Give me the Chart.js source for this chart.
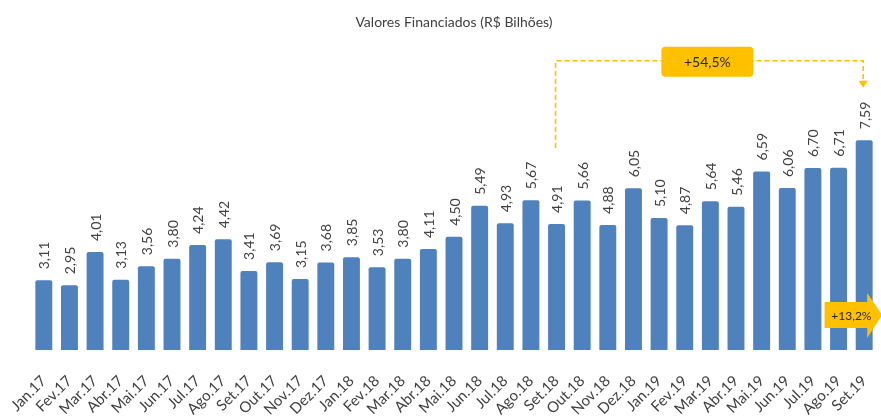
<!DOCTYPE html>
<html>
<head>
<meta charset="utf-8">
<script src="https://cdn.jsdelivr.net/npm/chart.js@4/dist/chart.umd.min.js"></script>
<style>
  html, body { margin: 0; padding: 0; background: #fff; }
  #wrap { width: 881px; height: 418px; }
</style>
</head>
<body>
<div id="wrap"><canvas id="valoresChart" width="881" height="418"></canvas></div>
<script>
// months shown on the x axis
const months = [
  "Jan.17", "Fev.17", "Mar.17", "Abr.17", "Mai.17", "Jun.17", "Jul.17", "Ago.17",
  "Set.17", "Out.17", "Nov.17", "Dez.17", "Jan.18", "Fev.18", "Mar.18", "Abr.18",
  "Mai.18", "Jun.18", "Jul.18", "Ago.18", "Set.18", "Out.18", "Nov.18", "Dez.18",
  "Jan.19", "Fev.19", "Mar.19", "Abr.19", "Mai.19", "Jun.19", "Jul.19", "Ago.19",
  "Set.19",
];

// financed values, R$ billions
const valores = [
  3.11, 2.95, 4.01, 3.13, 3.56, 3.80, 4.24, 4.42,
  3.41, 3.69, 3.15, 3.68, 3.85, 3.53, 3.80, 4.11,
  4.50, 5.49, 4.93, 5.67, 4.91, 5.66, 4.88, 6.05,
  5.10, 4.87, 5.64, 5.46, 6.59, 6.06, 6.70, 6.71,
  7.59,
];

// callouts: 12-month growth and month-over-month growth
const growthYear = { from: 20, to: 32, text: "+54,5%" };
const growthMonth = { from: 31, to: 32, text: "+13,2%" };

const gold = "#FFC000";
const textColor = "#404040";
const font = "Lato, 'Open Sans', sans-serif";

function fmt(v) {
  return v.toFixed(2).replace(".", ",");
}

// vertical value labels above the bars
const valueLabels = {
  id: "valueLabels",
  afterDatasetsDraw(chart) {
    const c = chart.ctx;
    const meta = chart.getDatasetMeta(0);
    c.save();
    c.fillStyle = textColor;
    c.font = "14px " + font;
    c.textAlign = "left";
    c.textBaseline = "middle";
    meta.data.forEach((bar, i) => {
      c.save();
      c.translate(bar.x + 1, bar.y - 11);
      c.rotate(-Math.PI / 2);
      c.fillText(fmt(valores[i]), 0, 0);
      c.restore();
    });
    c.restore();
  },
};

// dashed bracket and the arrow box
const callouts = {
  id: "callouts",
  afterDatasetsDraw(chart) {
    const c = chart.ctx;
    const x = chart.scales.x;
    const y = chart.scales.y;
    const area = chart.chartArea;

    // +54,5% bracket
    const x1 = x.getPixelForValue(growthYear.from) - 1;
    const x2 = x.getPixelForValue(growthYear.to) - 1;
    const yLine = area.top + 21;
    const yStart = y.getPixelForValue(valores[growthYear.from]) - 76;
    const yEnd = area.top + 42;
    c.save();
    c.strokeStyle = gold;
    c.lineWidth = 1.6;
    c.setLineDash([5, 3]);
    c.beginPath();
    c.moveTo(x1, yStart);
    c.lineTo(x1, yLine);
    c.lineTo(x2, yLine);
    c.lineTo(x2, yEnd);
    c.stroke();
    c.setLineDash([]);
    c.fillStyle = gold;
    c.beginPath();
    c.moveTo(x2 - 4.5, yEnd - 1);
    c.lineTo(x2 + 4.5, yEnd - 1);
    c.lineTo(x2, yEnd + 6);
    c.closePath();
    c.fill();

    const bx = (x1 + x2) / 2 - 2;
    const bw = 92, bh = 30;
    c.beginPath();
    c.roundRect(bx - bw / 2, yLine - bh / 2 + 1, bw, bh, 4);
    c.fill();
    c.fillStyle = "#262626";
    c.font = "14px " + font;
    c.textAlign = "center";
    c.textBaseline = "middle";
    c.fillText(growthYear.text, bx, yLine + 2);

    // +13,2% block arrow
    const a1 = x.getPixelForValue(growthMonth.from);
    const a2 = x.getPixelForValue(growthMonth.to);
    const cy = area.bottom - 35;
    const left = a1 - 14;
    const neck = a2 + 3;
    const tip = a2 + 18;
    c.fillStyle = gold;
    c.beginPath();
    c.moveTo(left, cy - 13);
    c.lineTo(neck, cy - 13);
    c.lineTo(neck, cy - 22);
    c.lineTo(tip, cy);
    c.lineTo(neck, cy + 23);
    c.lineTo(neck, cy + 13);
    c.lineTo(left, cy + 13);
    c.closePath();
    c.fill();
    c.fillStyle = "#262626";
    c.font = "12px " + font;
    c.fillText(growthMonth.text, (left + tip) / 2 - 2, cy + 1);
    c.restore();
  },
};

const ctx = document.getElementById("valoresChart").getContext("2d");
const valoresChart = new Chart(ctx, {
  type: "bar",
  data: {
    labels: months,
    datasets: [
      {
        label: "Valores Financiados",
        data: valores,
        backgroundColor: "#4F81BD",
        borderRadius: { topLeft: 2, topRight: 2 },
        borderSkipped: "bottom",
        categoryPercentage: 1,
        barPercentage: 0.66,
      },
    ],
  },
  options: {
    responsive: false,
    animation: false,
    layout: {
      padding: { left: 31, right: 4, top: 0, bottom: 0 },
    },
    plugins: {
      legend: { display: false },
      tooltip: { enabled: false },
      title: {
        display: true,
        text: "Valores Financiados (R$ Bilhões)",
        color: textColor,
        font: { family: font, size: 14, weight: "normal" },
        padding: { top: 14, bottom: 9 },
      },
    },
    scales: {
      x: {
        grid: { display: false, drawTicks: false },
        border: { display: false },
        ticks: {
          color: textColor,
          font: { family: font, size: 15 },
          minRotation: 45,
          maxRotation: 45,
          autoSkip: false,
          padding: 22,
        },
        afterFit(scale) {
          // rotated labels may run off the canvas, as in the original
          scale.height = 68;
          scale.paddingLeft = 0;
          scale.paddingRight = 0;
        },
      },
      y: {
        display: false,
        min: 0.88,
        max: 10.8,
      },
    },
  },
  plugins: [valueLabels, callouts],
});
</script>
</body>
</html>
